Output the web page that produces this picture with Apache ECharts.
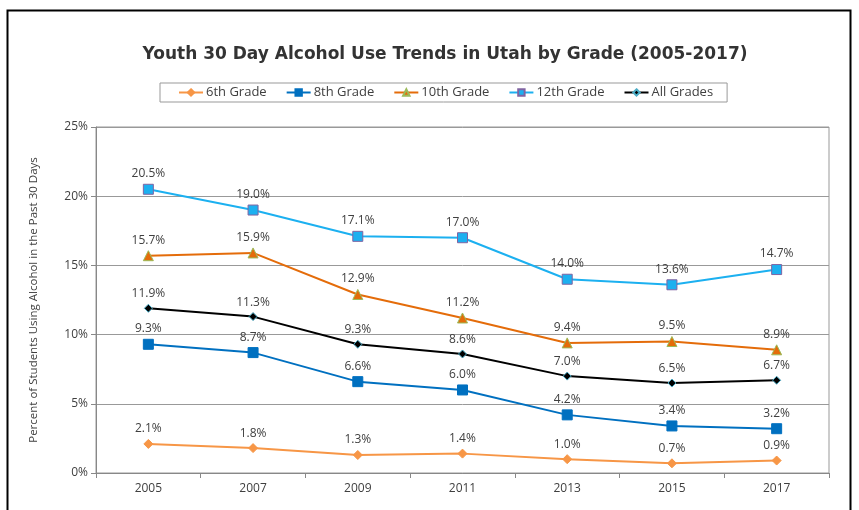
<!DOCTYPE html>
<html>
<head>
<meta charset="utf-8">
<script src="https://cdn.jsdelivr.net/npm/echarts@6/dist/echarts.min.js"></script>
<style>
  html, body { margin: 0; padding: 0; background: #fff; }
  #chart { width: 859px; height: 510px; }
</style>
</head>
<body>
<div id="chart"></div>
<script>
// data
var years = ["2005", "2007", "2009", "2011", "2013", "2015", "2017"]
var grade6 = [2.1, 1.8, 1.3, 1.4, 1.0, 0.7, 0.9]
var grade8 = [9.3, 8.7, 6.6, 6.0, 4.2, 3.4, 3.2]
var grade10 = [15.7, 15.9, 12.9, 11.2, 9.4, 9.5, 8.9]
var grade12 = [20.5, 19.0, 17.1, 17.0, 14.0, 13.6, 14.7]
var allGrades = [11.9, 11.3, 9.3, 8.6, 7.0, 6.5, 6.7]
var yTicks = [0, 5, 10, 15, 20, 25]

var font = "'Open Sans', 'DejaVu Sans', sans-serif"

function makeSeries(name, data, color, symbol, size, borderColor) {
  return {
    name: name,
    type: "line",
    data: data,
    symbol: symbol,
    symbolSize: size,
    lineStyle: { color: color, width: 2 },
    itemStyle: { color: color, borderColor: borderColor || color, borderWidth: 1 },
    label: {
      show: true,
      position: "top",
      distance: 4,
      formatter: function (p) { return p.value.toFixed(1) + "%" },
      color: "#404040",
      fontSize: 12,
      fontFamily: font
    },
    emphasis: { disabled: true },
    animation: false
  }
}

var chart = echarts.init(document.getElementById("chart"))
chart.setOption({
  backgroundColor: "#fff",
  title: {
    text: "Youth 30 Day Alcohol Use Trends in Utah by Grade (2005-2017)",
    left: 440,
    textAlign: "center",
    top: 41,
    textStyle: { fontSize: 17, fontWeight: "bold", color: "#333", fontFamily: "'DejaVu Sans', sans-serif" }
  },
  legend: {
    top: 83,
    left: 160,
    padding: [3, 14, 3, 18],
    borderColor: "#999",
    borderWidth: 1,
    borderRadius: 0,
    itemWidth: 24,
    itemHeight: 8,
    itemGap: 19,
    textStyle: { fontSize: 13, color: "#404040", fontFamily: font, padding: [0, 0, 0, -2] },
    data: ["6th Grade", "8th Grade", "10th Grade", "12th Grade", "All Grades"]
  },
  grid: { left: 96, right: 30, top: 127, bottom: 37, show: true, borderColor: "#999", borderWidth: 1 },
  xAxis: {
    type: "category",
    data: years,
    boundaryGap: true,
    axisLine: { lineStyle: { color: "#888" } },
    axisTick: { show: true, lineStyle: { color: "#888" } },
    axisLabel: { color: "#404040", fontSize: 12, fontFamily: font, margin: 10 }
  },
  yAxis: {
    type: "value",
    min: yTicks[0],
    max: yTicks[yTicks.length - 1],
    interval: 5,
    name: "Percent of Students Using Alcohol in the Past 30 Days",
    nameLocation: "middle",
    nameGap: 56,
    nameTextStyle: { fontSize: 11.5, color: "#404040", fontFamily: font },
    axisLine: { show: true, lineStyle: { color: "#888" } },
    axisTick: { show: true, lineStyle: { color: "#888" } },
    splitLine: { lineStyle: { color: "#999", width: 1 } },
    axisLabel: { color: "#404040", fontSize: 12, fontFamily: font, formatter: "{value}%" }
  },
  graphic: [{
    type: "rect",
    shape: { x: 7.5, y: 10.5, width: 843, height: 520 },
    style: { fill: null, stroke: "#000", lineWidth: 2 },
    silent: true
  }],
  series: [
    makeSeries("6th Grade", grade6, "#F79646", "diamond", 9),
    makeSeries("8th Grade", grade8, "#0070C0", "rect", 10),
    makeSeries("10th Grade", grade10, "#E46C0A", "triangle", 10, "#9BBB59"),
    makeSeries("12th Grade", grade12, "#1CB0F0", "rect", 10, "#8064A2"),
    makeSeries("All Grades", allGrades, "#000000", "diamond", 8, "#4BACC6")
  ]
})
</script>
</body>
</html>
